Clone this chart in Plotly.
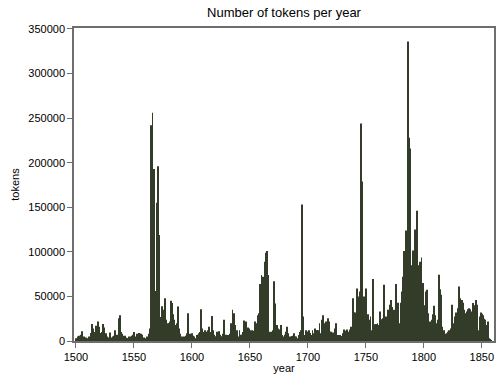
import plotly.graph_objects as go

# Token counts per year, one row per decade
first_year = 1500
tokens = [
    3000, 2500, 5000, 6000, 7000, 11000, 4000, 5000, 3000, 4000,            # 1500s
    3000, 5000, 4000, 9000, 19000, 14000, 10000, 17000, 12000, 22000,       # 1510s
    16000, 9000, 10000, 19000, 15000, 6000, 8600, 5000, 4000, 9400,         # 1520s
    3000, 4000, 5000, 6000, 12000, 7000, 3000, 25500, 29000, 10000,         # 1530s
    8000, 6000, 6000, 4000, 3000, 3000, 5000, 5000, 6000, 7000,             # 1540s
    10000, 5000, 4000, 8000, 9000, 8000, 8000, 7000, 3000, 4000,            # 1550s
    3000, 5000, 4000, 8000, 14000, 242000, 256000, 193000, 56000, 54000,    # 1560s
    155000, 196000, 119000, 27000, 39000, 30000, 35000, 48000, 23700, 20000,  # 1570s
    20000, 22000, 45000, 42500, 30000, 23700, 18000, 20000, 38700, 14000,   # 1580s
    8000, 5000, 5000, 4000, 5000, 6000, 8600, 31000, 8000, 6800,            # 1590s
    8600, 6000, 5000, 3000, 6800, 7000, 8600, 10000, 35700, 14000,          # 1600s
    10000, 12000, 8000, 10500, 12000, 16000, 10000, 28000, 12000, 7000,     # 1610s
    5000, 5000, 10500, 11000, 7000, 5000, 5000, 8000, 23700, 7000,          # 1620s
    6800, 6800, 5000, 8000, 20000, 35000, 31000, 18000, 5000, 12000,        # 1630s
    5000, 12000, 7000, 7000, 10000, 23000, 20000, 22000, 15000, 14000,      # 1640s
    12000, 5000, 12000, 11500, 22000, 12000, 20000, 29000, 31000, 64000,    # 1650s
    74000, 72000, 42500, 89000, 99000, 101000, 74000, 10500, 8600, 10500,   # 1660s
    12000, 67000, 42000, 18000, 14000, 13000, 10000, 18000, 6800, 5000,     # 1670s
    7000, 10500, 16000, 8600, 5000, 5000, 5500, 6000, 8600, 5000,           # 1680s
    5000, 3000, 6800, 10000, 12000, 153000, 27500, 6800, 12000, 10500,      # 1690s
    10500, 12000, 9000, 6800, 12000, 8600, 14000, 12000, 12000, 12000,      # 1700s
    20000, 8600, 23700, 29000, 20000, 10500, 22000, 25600, 21800, 10500,    # 1710s
    10500, 8600, 9400, 14000, 20000, 5000, 6800, 5000, 6800, 5700,          # 1720s
    8600, 13000, 10500, 11500, 13000, 10500, 13000, 16000, 12000, 48000,    # 1730s
    32000, 32000, 59000, 7000, 50000, 55600, 244000, 179000, 50000, 7000,   # 1740s
    59000, 23700, 30000, 23700, 27500, 12000, 69500, 13000, 18800, 19000,   # 1750s
    20000, 18000, 33000, 23700, 24400, 25600, 63000, 27500, 25600, 35000,   # 1760s
    27500, 40600, 46000, 38000, 35000, 31000, 64000, 38000, 43000, 20000,   # 1770s
    43000, 55600, 72000, 101000, 42500, 124000, 336000, 228000, 216000, 85000,  # 1780s
    78000, 101600, 125000, 91000, 146000, 59000, 85000, 89000, 93700, 65000,    # 1790s
    40000, 30000, 55600, 57500, 31000, 21800, 20000, 23700, 30000, 39500,   # 1800s
    29000, 20000, 23700, 74400, 58000, 52000, 16000, 12000, 8000, 5000,     # 1810s
    8600, 10500, 12000, 14000, 40600, 14000, 20000, 27500, 32000, 36800,    # 1820s
    61000, 48000, 45500, 46000, 43000, 35000, 31000, 33000, 35700, 36800,   # 1830s
    35700, 33000, 42500, 35700, 40000, 46000, 40600, 12000, 27500, 32000,   # 1840s
    30500, 29000, 25000, 23700, 18000, 21800, 3000, 2000, 1000,             # 1850s
]
years = list(range(first_year, first_year + len(tokens)))

x_ticks = [1500, 1550, 1600, 1650, 1700, 1750, 1800, 1850]
y_ticks = [0, 50000, 100000, 150000, 200000, 250000, 300000, 350000]

bar_color = "#333b29"
frame_color = "#6e6e6e"
font_family = "Liberation Sans, Arial, Helvetica, sans-serif"

fig = go.Figure(
    go.Bar(
        x=years,
        y=tokens,
        marker=dict(color=bar_color, line=dict(width=0)),
    )
)

fig.update_layout(
    width=497,
    height=376,
    margin=dict(l=74, r=1, t=28, b=35),
    paper_bgcolor="white",
    plot_bgcolor="white",
    bargap=0.2,
    showlegend=False,
    font=dict(family=font_family, size=11, color="black"),
    title=dict(
        text="Number of tokens per year",
        x=0.5,
        xref="paper",
        y=0.968,
        yref="container",
        yanchor="middle",
        font=dict(size=13, color="black"),
    ),
)

fig.update_xaxes(
    range=[1498.3, 1860.5],
    tickvals=x_ticks,
    ticktext=[str(t) for t in x_ticks],
    ticks="outside",
    ticklen=5,
    tickcolor=frame_color,
    showline=True,
    linecolor=frame_color,
    linewidth=1.5,
    mirror=True,
    showgrid=False,
    zeroline=False,
    title=dict(text="year", standoff=2, font=dict(size=11)),
)

fig.update_yaxes(
    range=[0, 351000],
    tickvals=y_ticks,
    ticktext=[str(t) for t in y_ticks],
    ticks="outside",
    ticklen=5,
    tickcolor=frame_color,
    showline=True,
    linecolor=frame_color,
    linewidth=1.5,
    mirror=True,
    showgrid=False,
    zeroline=False,
    title=dict(text="tokens", standoff=6, font=dict(size=11)),
)

fig.write_html("out.html")
